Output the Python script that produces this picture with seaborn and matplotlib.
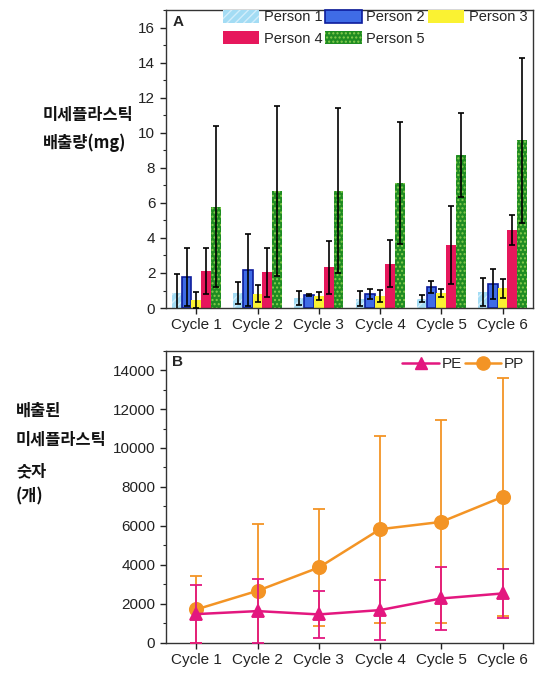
import numpy as np
import pandas as pd
import matplotlib
matplotlib.use('Agg')
import matplotlib.pyplot as plt
from matplotlib.ticker import MultipleLocator
from matplotlib.lines import Line2D
import seaborn as sns

# ---- data ----
cycles = ['Cycle 1', 'Cycle 2', 'Cycle 3', 'Cycle 4', 'Cycle 5', 'Cycle 6']
persons = ['Person 1', 'Person 2', 'Person 3', 'Person 4', 'Person 5']

# panel A: microplastic emission (mg), mean and SD
p1_mean = [0.86, 0.86, 0.57, 0.53, 0.53, 0.90]
p1_sd = [1.10, 0.63, 0.38, 0.42, 0.19, 0.81]
p2_mean = [1.77, 2.15, 0.72, 0.80, 1.20, 1.39]
p2_sd = [1.63, 2.05, 0.06, 0.30, 0.36, 0.86]
p3_mean = [0.45, 0.82, 0.67, 0.70, 0.86, 1.14]
p3_sd = [0.45, 0.48, 0.23, 0.35, 0.24, 0.54]
p4_mean = [2.10, 2.04, 2.32, 2.53, 3.58, 4.44]
p4_sd = [1.30, 1.39, 1.53, 1.34, 2.23, 0.86]
p5_mean = [5.77, 6.67, 6.70, 7.14, 8.74, 9.56]
p5_sd = [4.59, 4.85, 4.69, 3.49, 2.40, 4.69]

# panel B: number of emitted microplastics
pe_mean = [1470, 1624, 1453, 1675, 2274, 2530]
pe_sd = [1504, 1624, 1214, 1539, 1623, 1265]
pp_mean = [1710, 2667, 3863, 5829, 6205, 7487]
pp_sd = [1726, 3418, 3026, 4803, 5215, 6123]

means = [p1_mean, p2_mean, p3_mean, p4_mean, p5_mean]
sds = [p1_sd, p2_sd, p3_sd, p4_sd, p5_sd]

df_a = pd.DataFrame({
    'cycle': cycles * len(persons),
    'person': [p for p in persons for _ in cycles],
    'mg': np.concatenate(means),
})

bar_colors = ['#A3DCF4', '#3F6CE6', '#FAF232', '#E6175C', '#1F8C22']
pe_color = '#E3177F'
pp_color = '#F39425'

sns.set_theme(style='ticks')
plt.rcParams['font.family'] = ['Liberation Sans', 'Noto Sans CJK KR']
plt.rcParams['hatch.linewidth'] = 1.0

fig = plt.figure(figsize=(5.6, 6.73), dpi=100)
ax_a = fig.add_axes([0.296, 0.5423, 0.656, 0.4427])
ax_b = fig.add_axes([0.296, 0.045, 0.656, 0.434])

# ---- panel A: grouped bars ----
sns.barplot(data=df_a, x='cycle', y='mg', hue='person', hue_order=persons,
            palette=bar_colors, errorbar=None, width=0.8, gap=0,
            saturation=1, ax=ax_a, legend=False)

styles = [
    dict(hatch='////', edgecolor='#D2EEFB', linewidth=0),
    dict(hatch=None, edgecolor='#0D1C9C', linewidth=1.2),
    dict(hatch=None, edgecolor='none', linewidth=0),
    dict(hatch=None, edgecolor='none', linewidth=0),
    dict(hatch='....', edgecolor='#86CC4E', linewidth=0),
]
for cont, st, m, s in zip(ax_a.containers, styles, means, sds):
    xs = []
    for p in cont.patches:
        p.set_hatch(st['hatch'])
        p.set_edgecolor(st['edgecolor'])
        p.set_linewidth(st['linewidth'])
        xs.append(p.get_x() + p.get_width() / 2)
    ax_a.errorbar(xs, m, yerr=s, fmt='none', ecolor='black',
                  elinewidth=1.2, capsize=2.5, capthick=1.2, zorder=5)

handles = []
for cont, st, c in zip(ax_a.containers, styles, bar_colors):
    handles.append(plt.Rectangle((0, 0), 1, 1, facecolor=c,
                                 edgecolor=st['edgecolor'],
                                 linewidth=st['linewidth'], hatch=st['hatch']))
# matplotlib fills legend columns first; reorder so rows read P1 P2 P3 / P4 P5
order = [0, 3, 1, 4, 2]
ax_a.legend([handles[i] for i in order], [persons[i] for i in order],
            ncol=3, loc='upper left',
            bbox_to_anchor=(0.14, 1.02), frameon=False, fontsize=10.5,
            handlelength=2.5, handleheight=1.0, handletextpad=0.3,
            columnspacing=0.2, labelspacing=0.45, borderaxespad=0)

ax_a.set_ylim(0, 17)
ax_a.set_xlim(-0.5, 5.5)
ax_a.yaxis.set_major_locator(MultipleLocator(2))
ax_a.yaxis.set_minor_locator(MultipleLocator(1))
ax_a.set_xlabel('')
ax_a.set_ylabel('')
ax_a.text(0.018, 0.985, 'A', transform=ax_a.transAxes, fontsize=11,
          fontweight='bold', va='top', ha='left')

# ---- panel B: lines with error bars ----
x_pos = np.arange(len(cycles))
sns.pointplot(x=cycles, y=pp_mean, color=pp_color, marker='o',
              markersize=9.5, linewidth=1.8, errorbar=None, ax=ax_b)
ax_b.errorbar(x_pos, pp_mean, yerr=pp_sd, fmt='none', ecolor=pp_color,
              elinewidth=1.3, capsize=4.5, capthick=1.3, zorder=3)
sns.pointplot(x=cycles, y=pe_mean, color=pe_color, marker='^',
              markersize=9, linewidth=1.8, errorbar=None, ax=ax_b)
ax_b.errorbar(x_pos, pe_mean, yerr=pe_sd, fmt='none', ecolor=pe_color,
              elinewidth=1.3, capsize=4.5, capthick=1.3, zorder=6)
for ln in ax_b.lines:
    ln.set_zorder(ln.get_zorder() + 2)

leg_b = [Line2D([0], [0], color=pe_color, marker='^', markersize=9, lw=1.8),
         Line2D([0], [0], color=pp_color, marker='o', markersize=9.5, lw=1.8)]
ax_b.legend(leg_b, ['PE', 'PP'], ncol=2, loc='upper right',
            bbox_to_anchor=(1.0, 1.01), frameon=False, fontsize=11,
            handlelength=2.4, handletextpad=0.15, columnspacing=0.2,
            borderaxespad=0.2)

ax_b.set_ylim(0, 15000)
ax_b.set_xlim(-0.5, 5.5)
ax_b.yaxis.set_major_locator(MultipleLocator(2000))
ax_b.yaxis.set_minor_locator(MultipleLocator(1000))
ax_b.set_xlabel('')
ax_b.set_ylabel('')
ax_b.text(0.018, 0.985, 'B', transform=ax_b.transAxes, fontsize=11,
          fontweight='bold', va='top', ha='left')

for ax in (ax_a, ax_b):
    for sp in ax.spines.values():
        sp.set_visible(True)
        sp.set_color('#333333')
        sp.set_linewidth(1.0)
    ax.tick_params(axis='both', which='major', direction='out', length=4,
                   width=1, labelsize=11, colors='#222222')
    ax.tick_params(axis='y', which='minor', direction='out', length=2.5,
                   width=0.8)
    ax.tick_params(axis='x', which='minor', bottom=False)

# Korean axis captions, placed to the left of the axes
kr = dict(fontsize=11.8, fontweight='bold', family=['Noto Sans CJK KR'],
          ha='left', va='center', color='#111111')
fig.text(43 / 560, 1 - 115 / 673, '미세플라스틱', **kr)
fig.text(43 / 560, 1 - 143 / 673, '배출량(mg)', **kr)
fig.text(16 / 560, 1 - 411 / 673, '배출된', **kr)
fig.text(16 / 560, 1 - 440 / 673, '미세플라스틱', **kr)
fig.text(16 / 560, 1 - 471 / 673, '숫자', **kr)
fig.text(16 / 560, 1 - 496 / 673, '(개)', **kr)

fig.savefig('out.png', dpi=100)
